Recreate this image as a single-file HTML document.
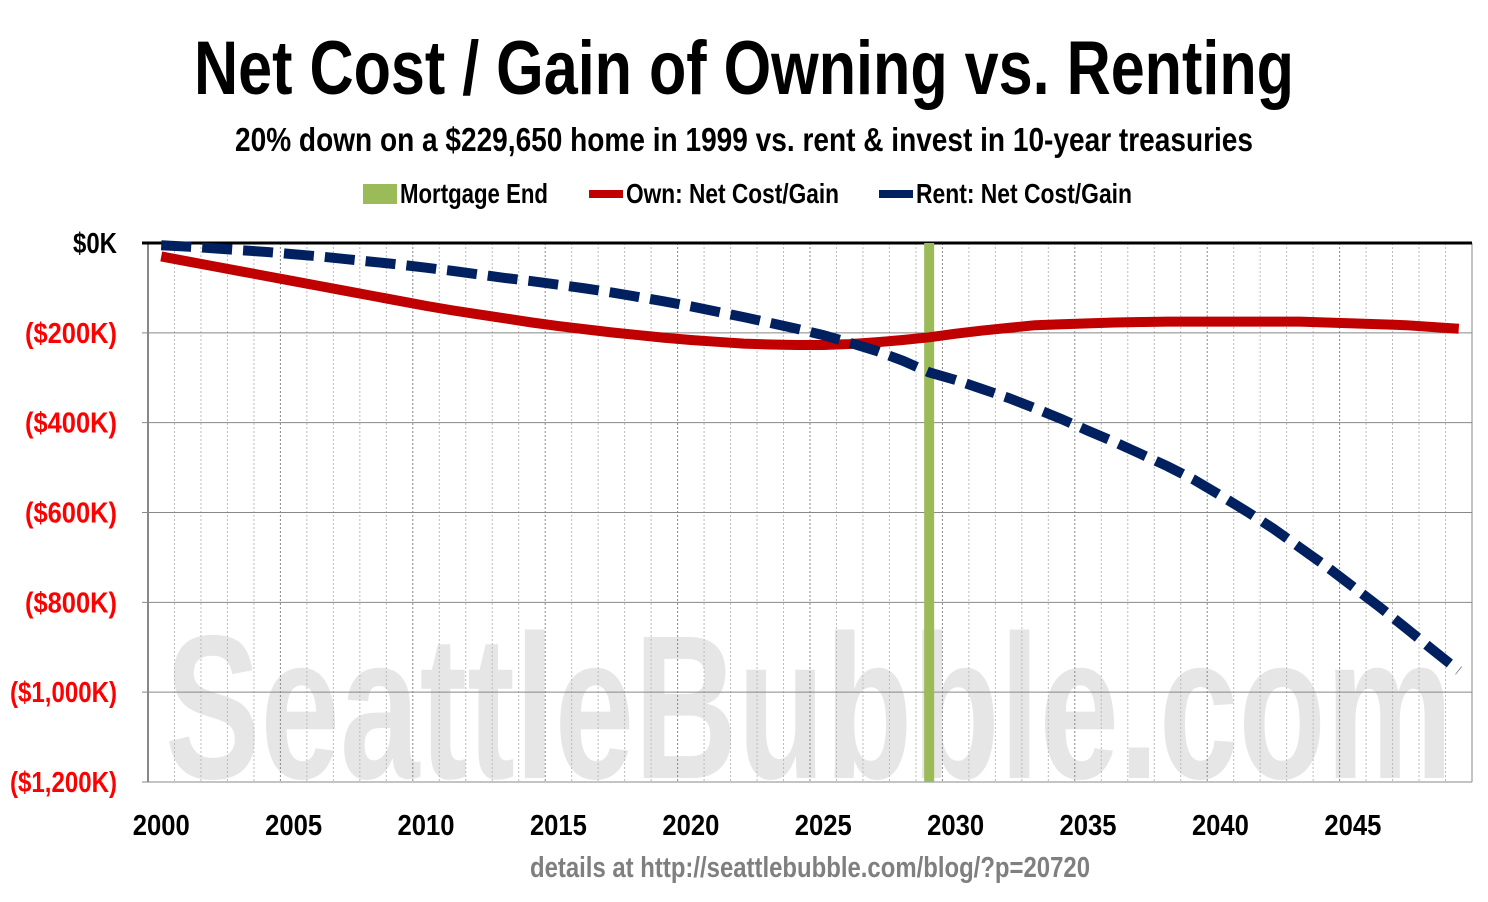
<!DOCTYPE html>
<html><head><meta charset="utf-8"><style>
html,body{margin:0;padding:0;background:#fff;}
svg{display:block;font-family:"Liberation Sans Narrow","Liberation Sans",sans-serif;}
</style></head><body>
<svg id="chart" width="1488" height="902" viewBox="0 0 1488 902" xmlns="http://www.w3.org/2000/svg">
<text x="744" y="94" text-anchor="middle" font-size="76" font-weight="bold" textLength="1100" lengthAdjust="spacingAndGlyphs">Net Cost / Gain of Owning vs. Renting</text>
<text x="744" y="151" text-anchor="middle" font-size="33" font-weight="bold" textLength="1018" lengthAdjust="spacingAndGlyphs">20% down on a $229,650 home in 1999 vs. rent &amp; invest in 10-year treasuries</text>
<g id="legend" font-size="28" font-weight="bold">
 <g><rect x="363" y="184" width="34" height="20" fill="#9bbb59"/><text x="400" y="203" textLength="148" lengthAdjust="spacingAndGlyphs">Mortgage End</text></g>
 <g><line x1="589" y1="194" x2="623" y2="194" stroke="#c00000" stroke-width="8"/><text x="626" y="203" textLength="213" lengthAdjust="spacingAndGlyphs">Own: Net Cost/Gain</text></g>
 <g><line x1="879" y1="194" x2="913" y2="194" stroke="#002060" stroke-width="8"/><text x="916" y="203" textLength="216" lengthAdjust="spacingAndGlyphs">Rent: Net Cost/Gain</text></g>
</g>
<text x="165" y="778" font-size="205" font-weight="bold" fill="#e6e6e6" textLength="1288" lengthAdjust="spacingAndGlyphs">SeattleBubble.com</text>
<g id="grid"></g><g id="axes"></g><g id="series"></g>
<text x="810" y="877" text-anchor="middle" font-size="29" font-weight="bold" fill="#7f7f7f" textLength="560" lengthAdjust="spacingAndGlyphs">details at http://seattlebubble.com/blog/?p=20720</text>
</svg>
<script>
const years = [];
for (let y = 2000; y <= 2049; y++) years.push(y);
const ownValues = [-30,-41,-52,-63,-74,-85,-96,-107,-118,-129,-140,-150,-159,-168,-177,-185,-192,-199,-205,-211,-216,-220,-224,-226,-227,-227,-225,-221,-216,-210,-202,-195,-189,-183,-181,-179,-177,-176,-175,-175,-175,-175,-175,-175,-177,-179,-181,-183,-187,-191];
const rentValues = [-5,-8,-12,-16,-20,-25,-30,-36,-42,-48,-55,-62,-70,-78,-85,-93,-101,-110,-120,-130,-141,-153,-165,-178,-191,-205,-222,-240,-262,-288,-305,-325,-345,-368,-392,-418,-443,-470,-497,-527,-562,-598,-636,-678,-720,-765,-810,-857,-905,-952];
const mortgageEndYear = 2029;
const yTicks = [0,-200,-400,-600,-800,-1000,-1200];
const yTickLabels = ["$0K","($200K)","($400K)","($600K)","($800K)","($1,000K)","($1,200K)"];
const xTickYears = [2000,2005,2010,2015,2020,2025,2030,2035,2040,2045];

const NS="http://www.w3.org/2000/svg";
const L=148,R=1472,T=243,B=782;
const bw=(R-L)/years.length;
const xc=yr=>L+(yr-years[0]+0.5)*bw;
const yv=v=>T+(0-v)/1200*(B-T);
function mk(tag,attrs,parent){const e=document.createElementNS(NS,tag);for(const k in attrs)e.setAttribute(k,attrs[k]);parent.appendChild(e);return e;}
const grid=document.getElementById('grid'),axes=document.getElementById('axes'),series=document.getElementById('series');
for(let i=1;i<years.length;i++){
  const x=L+i*bw;const major=(years[i])%5===0;
  const g=mk('line',{x1:x,x2:x,y1:T,y2:B,stroke:major?'#888':'#bbb','stroke-width':1,'stroke-dasharray':'2,2'},grid);
  
  
}
yTicks.forEach((v,i)=>{
  const y=yv(v);
  if(i>0){const g=mk('line',{x1:L-6,x2:R,y1:y,y2:y,stroke:'#888','stroke-width':1},grid);
  
  }
  const lab=yTickLabels[i];
  const w=lab.length<=3?44:(lab.indexOf(',')>=0?107:92);
  const t=mk('text',{x:117-w,y:y+10,'font-size':29,'font-weight':'bold',fill:v<0?'#ff0000':'#000',textLength:w,lengthAdjust:'spacingAndGlyphs'},axes);
  t.textContent=lab;
  
  
});
const ax=mk('line',{x1:L,x2:L,y1:T,y2:B,stroke:'#888','stroke-width':2},axes);


const rb=mk('line',{x1:R,x2:R,y1:T,y2:B,stroke:'#888','stroke-width':1},axes);


const z=mk('line',{x1:L-6,x2:R,y1:T,y2:T,stroke:'#000','stroke-width':3},axes);


xTickYears.forEach(yr=>{
  const t=mk('text',{x:xc(yr)-28.5,y:835,'font-size':29,'font-weight':'bold',textLength:57,lengthAdjust:'spacingAndGlyphs'},axes);
  t.textContent=String(yr);
  
  
});
const me=mk('rect',{x:xc(mortgageEndYear)-5,y:T,width:10,height:B-T,fill:'#9bbb59'},series);


const pts=arr=>arr.map((v,i)=>xc(years[i])+','+yv(v)).join(' ');
const own=mk('polyline',{points:pts(ownValues),fill:'none',stroke:'#c00000','stroke-width':10,'stroke-linejoin':'round'},series);


const rent=mk('polyline',{points:pts(rentValues),fill:'none',stroke:'#002060','stroke-width':10,'stroke-dasharray':'30,11'},series);


</script>
</body></html>
